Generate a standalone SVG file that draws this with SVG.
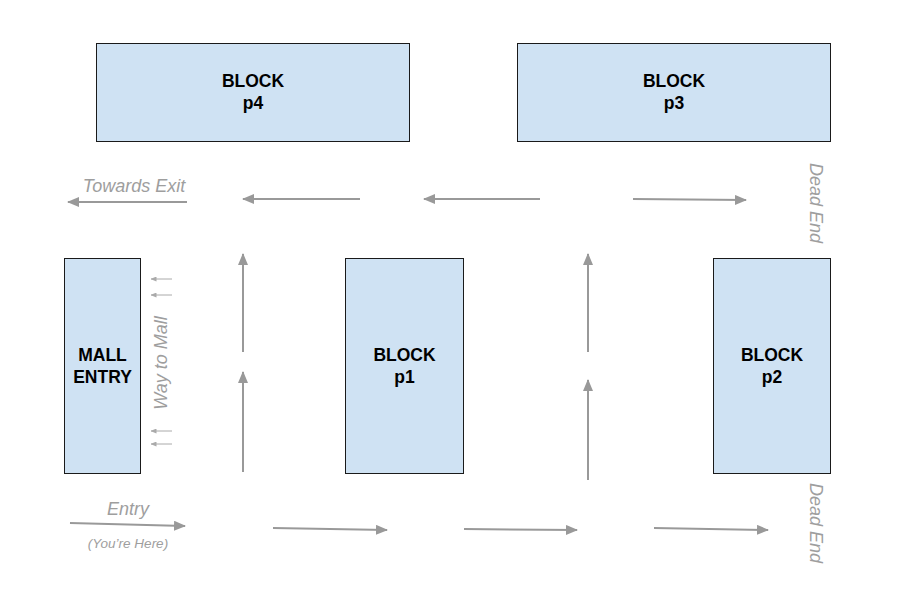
<svg xmlns="http://www.w3.org/2000/svg" width="901" height="593" viewBox="0 0 901 593">
<style>
.blk{fill:#cfe2f3;stroke:#1a1a1a;stroke-width:1}
.bt{font-family:"Liberation Sans",Arial,sans-serif;font-weight:bold;font-size:17.5px;fill:#000;text-anchor:middle}
.lbl{font-family:"Liberation Sans",Arial,sans-serif;font-style:italic;font-size:18px;fill:#9e9e9e}
.ar{stroke:#999;stroke-width:2;fill:none;marker-end:url(#ah)}
.sar{stroke:#aaa;stroke-width:1;fill:none;marker-end:url(#sah)}
</style>
<defs>
<marker id="ah" markerWidth="6" markerHeight="5" refX="5.5" refY="2.5" orient="auto" markerUnits="strokeWidth"><path d="M0,0 L6,2.5 L0,5 Z" fill="#999"/></marker>
<marker id="sah" markerWidth="6" markerHeight="5" refX="5.5" refY="2.5" orient="auto" markerUnits="strokeWidth"><path d="M0,0 L6,2.5 L0,5 Z" fill="#aaa"/></marker>
</defs>
<rect width="901" height="593" fill="#fff"/>
<g id="p4"><rect class="blk" x="96.5" y="43.5" width="313" height="98"/><text class="bt" x="253" y="87">BLOCK</text><text class="bt" x="253" y="109">p4</text></g>
<g id="p3"><rect class="blk" x="517.5" y="43.5" width="313" height="98"/><text class="bt" x="674" y="87">BLOCK</text><text class="bt" x="674" y="109">p3</text></g>
<g id="mall"><rect class="blk" x="64.5" y="258.5" width="76" height="215"/><text class="bt" x="102.5" y="361">MALL</text><text class="bt" x="102.5" y="383">ENTRY</text></g>
<g id="p1"><rect class="blk" x="345.5" y="258.5" width="118" height="215"/><text class="bt" x="404.5" y="361">BLOCK</text><text class="bt" x="404.5" y="383">p1</text></g>
<g id="p2"><rect class="blk" x="713.5" y="258.5" width="117" height="215"/><text class="bt" x="772" y="361">BLOCK</text><text class="bt" x="772" y="383">p2</text></g>
<g id="connectors">
<line class="ar" x1="187" y1="202" x2="68" y2="202"/>
<line class="ar" x1="360" y1="199" x2="243" y2="199"/>
<line class="ar" x1="540" y1="199" x2="424" y2="199"/>
<line class="ar" x1="633" y1="199" x2="746" y2="200"/>
<line class="ar" x1="243" y1="352" x2="243" y2="254"/>
<line class="ar" x1="243" y1="472" x2="243" y2="372"/>
<line class="ar" x1="588" y1="352" x2="588" y2="254"/>
<line class="ar" x1="588" y1="480" x2="588" y2="380"/>
<line class="ar" x1="70" y1="523" x2="185" y2="526"/>
<line class="ar" x1="273" y1="528" x2="387" y2="530"/>
<line class="ar" x1="464" y1="529" x2="577" y2="530"/>
<line class="ar" x1="654" y1="528" x2="768" y2="530"/>
<line class="sar" x1="172" y1="279" x2="151" y2="279"/>
<line class="sar" x1="172" y1="295" x2="151" y2="295"/>
<line class="sar" x1="172" y1="431" x2="151" y2="431"/>
<line class="sar" x1="172" y1="444" x2="151" y2="444"/>
</g>
<g id="labels">
<text class="lbl" x="134" y="192" text-anchor="middle">Towards Exit</text>
<text class="lbl" x="128" y="515" text-anchor="middle">Entry</text>
<text class="lbl" x="128" y="548" text-anchor="middle" style="font-size:13.5px">(You’re Here)</text>
<text class="lbl" transform="translate(167,363) rotate(-90)" text-anchor="middle">Way to Mall</text>
<text class="lbl" transform="translate(810,203) rotate(90)" text-anchor="middle">Dead End</text>
<text class="lbl" transform="translate(810,523) rotate(90)" text-anchor="middle">Dead End</text>
</g>
</svg>
